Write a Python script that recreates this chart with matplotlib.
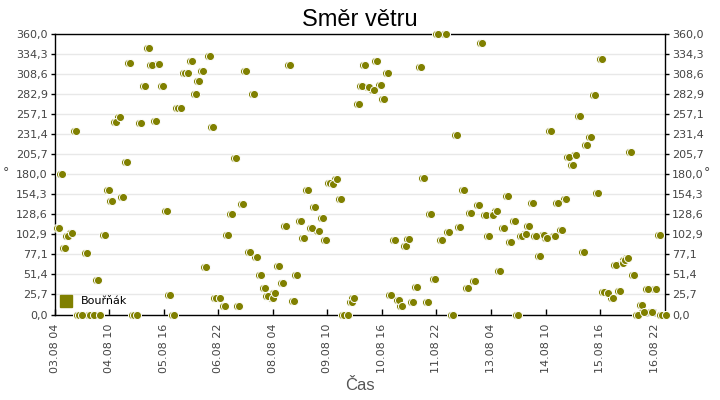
import datetime as dt
import matplotlib
matplotlib.use("Agg")
import matplotlib.pyplot as plt
from matplotlib.transforms import offset_copy
from matplotlib.lines import Line2D

# ---------------- data ----------------
start = dt.datetime(2024, 8, 3, 4, 0)
# hours after 03.08 04:00
hours = [1.0, 2.9, 4.7, 6.4, 8.6, 10.5, 12.1, 13.9, 16.7, 18.2, 20.4, 22.9, 24.0, 26.6, 28.6,
         30.5, 32.5, 34.6, 36.5, 38.8, 40.3, 42.4, 44.2, 46.5, 48.7, 50.6, 52.3, 54.6, 56.3, 58.5,
         60.7, 62.3, 64.6, 66.5, 68.4, 70.4, 72.4, 74.5, 76.8, 78.3, 80.6, 82.3, 84.2, 85.8, 87.8,
         89.8, 92.7, 94.4, 96.4, 98.6, 100.4, 102.5, 104.3, 106.2, 108.6, 110.3, 112.5, 114.5, 116.1, 118.8,
         120.2, 122.3, 124.6, 126.3, 128.5, 130.4, 132.2, 134.5, 136.2, 138.2, 140.4, 142.2, 144.4, 146.4, 148.2,
         150.2, 152.1, 154.3, 156.4, 158.2, 160.4, 162.3, 163.8, 166.3, 167.8, 169.7, 171.9, 174.4, 176.0, 178.3,
         180.1, 182.3, 184.1, 186.1, 188.1, 189.9, 192.0, 194.0, 195.9, 198.3, 200.2, 201.9, 204.3, 206.0, 208.1,
         210.0, 211.9, 214.2, 216.0, 218.1, 220.3, 221.8, 224.1, 226.2, 228.0, 230.2, 232.1, 234.1, 236.1, 237.9,
         240.0, 242.0, 244.0, 246.0, 248.0, 250.0, 252.1, 253.7, 255.8, 258.1, 259.9, 262.0, 263.9, 266.0, 267.8,
         269.7, 272.0, 273.9, 275.8, 278.1, 280.0, 281.8, 284.0, 285.9, 287.8, 290.1, 291.8, 293.9, 295.9, 297.8,
         300.0, 301.2, 303.0, 306.1, 307.6, 309.8, 311.5, 312.7, 314.0, 316.0, 317.6, 319.6, 322.1, 323.3, 325.4,
         327.4, 329.6, 331.8, 333.2, 335.1]
direction = [111, 180, 85, 100.5, 105, 235.5, 0, 0, 79, 0, 0, 44.5, 0, 102.5, 160,
             145.7, 247.3, 253.5, 151, 196, 323, 0, 0, 246, 293.5, 342.5, 320.5, 248.8, 321.2, 293.5,
             133, 25.3, 0, 265.3, 265.3, 310.5, 310.5, 325.8, 283.3, 300, 312.8, 60.8, 332.5, 240.8, 20.6,
             20.6, 11, 102.3, 129.2, 201, 10.3, 141.8, 312.4, 80.2, 283.3, 73.8, 50.5, 33.8, 24, 21,
             27.9, 62.4, 40.3, 113.5, 320.5, 17.2, 50.5, 120, 98.2, 160, 111, 138, 107.2, 123.8, 95.5,
             168.5, 167.6, 174, 148.3, 0, 0, 15.6, 20.6, 270.6, 293.8, 320.5, 291.9, 288.4, 325.7, 294.8,
             277.3, 310.5, 25, 96, 18.4, 10.3, 88.3, 96.8, 15.8, 35.1, 318, 175.3, 15.8, 129.2, 45.5,
             360, 96, 360, 105.6, 0, 230.5, 112.3, 160, 33.9, 130.3, 42.8, 140.5, 348.8, 127.7, 101,
             127.3, 132.4, 56, 111, 152.2, 93, 119.6, 0, 100.3, 103.7, 113.5, 143, 101, 75, 101.6,
             97.7, 235.8, 100.3, 143, 108.5, 148.3, 202.3, 192, 204.9, 255, 80.2, 217.8, 228, 282, 156,
             328.3, 28.3, 27, 20.6, 63.5, 30, 65.6, 69.9, 72, 208.7, 50.5, 0, 12, 2.6, 33.4,
             2.6, 33.4, 102.3, 0, 0]
series_name = "Bouřňák"
title = "Směr větru"
x_label = "Čas"
y_label = "°"
x_tick_labels = ["03.08 04", "04.08 10", "05.08 16", "06.08 22", "08.08 04", "09.08 10",
                 "10.08 16", "11.08 22", "13.08 04", "14.08 10", "15.08 16", "16.08 22"]
y_tick_labels = ["0,0", "25,7", "51,4", "77,1", "102,9", "128,6", "154,3", "180,0",
                 "205,7", "231,4", "257,1", "282,9", "308,6", "334,3", "360,0"]

# ---------------- figure ----------------
OLIVE = "#808000"
TICK_COLOR = "#444444"
W, H = 720, 400
fig = plt.figure(figsize=(W / 100, H / 100), dpi=100)
L, R, B, T = 54.7, 665.0, 314.5, 34.3
ax = fig.add_axes([L / W, 1 - B / H, (R - L) / W, (B - T) / H])

times = [start + dt.timedelta(hours=h) for h in hours]

# marker: circle drawn twice (second slightly shifted) with white outline
ax.plot(times, direction, ls="none", marker="o", ms=5.8, mfc=OLIVE, mec="white",
        mew=0.7, zorder=3, clip_on=False)
shifted = offset_copy(ax.transData, fig=fig, x=2.0, y=0, units="dots")
ax.plot(times, direction, ls="none", marker="o", ms=5.8, mfc=OLIVE, mec="white",
        mew=0.7, zorder=3, transform=shifted, clip_on=False)

ax.set_xlim(start, start + dt.timedelta(hours=335.7))
ax.set_ylim(0, 360)

xt = [start + dt.timedelta(hours=30 * k) for k in range(len(x_tick_labels))]
ax.set_xticks(xt)
ax.set_xticklabels(x_tick_labels, rotation=90, fontsize=8, color=TICK_COLOR,
                   family="DejaVu Sans")
yt = [360 * i / 14 for i in range(len(y_tick_labels))]
ax.set_yticks(yt)
ax.set_yticklabels(y_tick_labels, fontsize=8, color=TICK_COLOR, family="DejaVu Sans")
ax.tick_params(axis="x", direction="in", length=4, width=1, pad=6.5, color="black")
ax.tick_params(axis="y", direction="out", length=3, width=1, pad=2, color="black",
               left=True, right=True, labelleft=True, labelright=True)

ax.grid(axis="y", color="#e8e8e8", lw=1, zorder=0)
ax.grid(axis="x", visible=False)
ax.set_axisbelow(True)
for s in ax.spines.values():
    s.set_color("black")
    s.set_linewidth(1)

# texts
fig.text(0.5, 1 - 26 / H, title, ha="center", va="baseline", fontsize=17,
         family="Liberation Sans", color="black")
fig.text((L + R) / 2 / W, 1 - 390.5 / H, x_label, ha="center", va="baseline",
         fontsize=12, family="Liberation Sans", color="#555555")
fig.text(3 / W, 1 - 173 / H, y_label, ha="left", va="center", fontsize=9,
         color=TICK_COLOR)
fig.text(704 / W, 1 - 173 / H, y_label, ha="left", va="center", fontsize=9,
         color=TICK_COLOR)

handle = Line2D([], [], ls="none", marker="s", ms=8, mfc=OLIVE, mec=OLIVE)
ax.legend([handle], [series_name], loc="center left",
          bbox_to_anchor=(0.0101, 13 / (B - T)), bbox_transform=ax.transAxes,
          frameon=False, borderpad=0, borderaxespad=0, handlelength=1.0,
          handletextpad=0.8, prop={"family": "DejaVu Sans", "size": 8})

fig.savefig("out.png", dpi=100)
